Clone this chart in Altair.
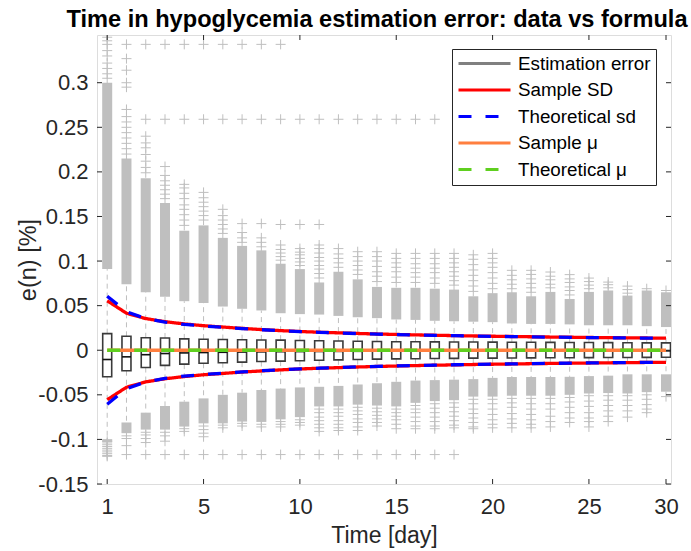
import altair as alt
import pandas as pd

# ---------------- data ----------------
days = list(range(1, 31))

box_q3 = [0.0186, 0.0156, 0.0140, 0.0138, 0.0127, 0.0124, 0.0120, 0.0118, 0.0115, 0.0113,
          0.0110, 0.0106, 0.0103, 0.0100, 0.0098, 0.0096, 0.0095, 0.0094, 0.0093, 0.0092,
          0.0091, 0.0090, 0.0089, 0.0088, 0.0087, 0.0086, 0.0085, 0.0084, 0.0083, 0.0082]
box_q1 = [-0.0298, -0.0230, -0.0194, -0.0170, -0.0156, -0.0146, -0.0140, -0.0133, -0.0127, -0.0122,
          -0.0118, -0.0112, -0.0108, -0.0104, -0.0100, -0.0097, -0.0095, -0.0093, -0.0091, -0.0089,
          -0.0088, -0.0087, -0.0086, -0.0085, -0.0084, -0.0083, -0.0082, -0.0081, -0.0080, -0.0079]
box_med = [-0.0104, -0.0074, -0.0050, -0.0037, -0.0030, -0.0026, -0.0023, -0.0020, -0.0018, -0.0016,
           -0.0015, -0.0014, -0.0013, -0.0012, -0.0011, -0.0011, -0.0010, -0.0010, -0.0009, -0.0009,
           -0.0009, -0.0008, -0.0008, -0.0008, -0.0008, -0.0007, -0.0007, -0.0007, -0.0007, -0.0007]

# dense band of upper outliers (bottom / top)
upper_lo = [0.091, 0.074, 0.065, 0.060, 0.055, 0.053, 0.049, 0.0465, 0.0446, 0.0415,
            0.0405, 0.0400, 0.0385, 0.0370, 0.0360, 0.0345, 0.0340, 0.0330, 0.0325, 0.0320,
            0.0315, 0.0300, 0.0295, 0.0295, 0.0290, 0.0280, 0.0280, 0.0280, 0.0270, 0.0260]
upper_hi = [0.300, 0.215, 0.193, 0.165, 0.134, 0.140, 0.126, 0.117, 0.112, 0.097,
            0.091, 0.076, 0.088, 0.0795, 0.071, 0.070, 0.070, 0.069, 0.068, 0.0605,
            0.064, 0.065, 0.0605, 0.0654, 0.0575, 0.0654, 0.067, 0.0613, 0.067, 0.065]
# dense band of lower outliers (top / bottom)
lower_hi = [-0.0997, -0.081, -0.070, -0.0625, -0.0577, -0.054, -0.050, -0.0476, -0.0446, -0.043,
            -0.0417, -0.041, -0.040, -0.0384, -0.037, -0.0354, -0.034, -0.0335, -0.033, -0.0324,
            -0.031, -0.030, -0.030, -0.030, -0.0298, -0.029, -0.0285, -0.027, -0.027, -0.027]
lower_lo = [-0.103, -0.093, -0.089, -0.089, -0.0856, -0.082, -0.082, -0.080, -0.0804, -0.0775,
            -0.075, -0.063, -0.063, -0.061, -0.062, -0.063, -0.059, -0.057, -0.056, -0.052,
            -0.052, -0.051, -0.051, -0.051, -0.050, -0.0485, -0.048, -0.0485, -0.047, -0.0465]

# individual outliers ('+') above the upper band
upper_extra = {
    1: [0.305, 0.310, 0.316, 0.322, 0.330, 0.336, 0.343, 0.347, 0.351],
    2: [0.220, 0.226, 0.232, 0.238, 0.244, 0.250, 0.256, 0.262, 0.270, 0.295, 0.300, 0.314, 0.327, 0.343],
    3: [0.199, 0.205, 0.212, 0.2195, 0.227, 0.2325, 0.240, 0.259, 0.343],
    4: [0.170, 0.175, 0.180, 0.185, 0.190, 0.196, 0.206, 0.259, 0.343],
    5: [0.140, 0.146, 0.152, 0.158, 0.163, 0.170, 0.176, 0.182, 0.186, 0.259, 0.343],
    6: [0.146, 0.151, 0.156, 0.161, 0.166, 0.171, 0.177, 0.259, 0.343],
    7: [0.131, 0.136, 0.141, 0.146, 0.151, 0.158, 0.259, 0.343],
    8: [0.121, 0.126, 0.132, 0.142, 0.259, 0.343],
    9: [0.116, 0.121, 0.126, 0.142, 0.259, 0.343],
    10: [0.101, 0.105, 0.109, 0.113, 0.118, 0.141, 0.259, 0.343],
    11: [0.095, 0.099, 0.103, 0.107, 0.110, 0.114, 0.141, 0.259],
    12: [0.081, 0.086, 0.091, 0.095, 0.100, 0.104, 0.109, 0.114, 0.118, 0.141, 0.259],
    13: [0.093, 0.098, 0.103, 0.108, 0.114, 0.259],
    14: [0.085, 0.090, 0.095, 0.100, 0.105, 0.1105, 0.259],
    15: [0.077, 0.083, 0.088, 0.094, 0.100, 0.105, 0.1105, 0.259],
    16: [0.076, 0.082, 0.088, 0.093, 0.098, 0.103, 0.1086, 0.259],
    17: [0.076, 0.082, 0.087, 0.092, 0.097, 0.103, 0.1086, 0.259],
    18: [0.075, 0.081, 0.087, 0.092, 0.097, 0.103, 0.1086, 0.259],
    19: [0.073, 0.078, 0.083, 0.088, 0.093, 0.098, 0.103, 0.1086],
    20: [0.066, 0.072, 0.078, 0.084, 0.090, 0.096, 0.102, 0.107],
    21: [0.069, 0.075, 0.081, 0.087, 0.093, 0.098, 0.103, 0.1086],
    22: [0.069, 0.074, 0.079, 0.084, 0.0896],
    23: [0.065, 0.070, 0.075, 0.080, 0.085, 0.0896],
    24: [0.070, 0.074, 0.079, 0.083, 0.0877],
    25: [0.062, 0.067, 0.071, 0.076, 0.080, 0.0848],
    26: [0.069, 0.073, 0.077, 0.0809],
    27: [0.070, 0.0735, 0.0764],
    28: [0.064, 0.068, 0.0719],
    29: [0.069],
    30: [0.067],
}
# individual outliers ('+') below the lower band
lower_extra = {
    1: [-0.102, -0.104, -0.106, -0.108, -0.110, -0.112, -0.114, -0.116, -0.118, -0.119],
    2: [-0.096, -0.099, -0.107, -0.117],
    3: [-0.092, -0.095, -0.099, -0.1035, -0.117],
    4: [-0.092, -0.096, -0.102, -0.117],
    5: [-0.088, -0.091, -0.117],
    6: [-0.085, -0.089, -0.093, -0.097, -0.117],
    7: [-0.084, -0.087, -0.117],
    8: [-0.082, -0.085, -0.117],
    9: [-0.083, -0.086, -0.117],
    10: [-0.080, -0.083, -0.086, -0.117],
    11: [-0.078, -0.081, -0.084, -0.117],
    12: [-0.066, -0.070, -0.075, -0.079, -0.083, -0.087, -0.091, -0.117],
    13: [-0.066, -0.070, -0.074, -0.079, -0.083, -0.087, -0.090, -0.117],
    14: [-0.064, -0.068, -0.072, -0.077, -0.081, -0.086, -0.090, -0.117],
    15: [-0.065, -0.069, -0.073, -0.077, -0.081, -0.085, -0.117],
    16: [-0.066, -0.070, -0.074, -0.078, -0.083, -0.088, -0.117],
    17: [-0.062, -0.066, -0.070, -0.075, -0.080, -0.085, -0.088, -0.117],
    18: [-0.060, -0.065, -0.070, -0.075, -0.080, -0.085, -0.088, -0.117],
    19: [-0.059, -0.064, -0.069, -0.074, -0.079, -0.084, -0.087, -0.117],
    20: [-0.055, -0.060, -0.066, -0.071, -0.076, -0.081, -0.086, -0.088],
    21: [-0.055, -0.060, -0.066, -0.072, -0.078, -0.083, -0.087],
    22: [-0.054, -0.059, -0.064, -0.071, -0.077, -0.082, -0.087],
    23: [-0.054, -0.060, -0.066, -0.072, -0.078, -0.083, -0.087],
    24: [-0.054, -0.060, -0.066, -0.074, -0.080, -0.086],
    25: [-0.053, -0.058, -0.064, -0.070, -0.076, -0.081],
    26: [-0.051, -0.057, -0.063, -0.070, -0.076, -0.080, -0.086],
    27: [-0.051, -0.056, -0.062, -0.068, -0.074, -0.080],
    28: [-0.051, -0.056, -0.062, -0.068, -0.075],
    29: [-0.050, -0.055, -0.061, -0.066, -0.070],
    30: [-0.052],
}

sd_sample = [0.0555, 0.0415, 0.0355, 0.0320, 0.0295, 0.0275, 0.0260, 0.0245, 0.0232, 0.0220,
             0.0210, 0.0202, 0.0195, 0.0188, 0.0182, 0.0177, 0.0172, 0.0168, 0.0164, 0.0160,
             0.0157, 0.0154, 0.0151, 0.0148, 0.0146, 0.0143, 0.0141, 0.0139, 0.0137, 0.0135]
sd_theory = [0.0605, 0.0432, 0.0355, 0.0315, 0.0290, 0.0272, 0.0257, 0.0243, 0.0230, 0.0219,
             0.0209, 0.0201, 0.0194, 0.0187, 0.0181, 0.0176, 0.0171, 0.0167, 0.0163, 0.0159,
             0.0156, 0.0153, 0.0150, 0.0147, 0.0145, 0.0142, 0.0140, 0.0138, 0.0136, 0.0134]
mu_sample = [0.0, 0.0, 0.0, 0.0, 0.0, 0.0, 0.0, 0.0, 0.0, 0.0,
             0.0, 0.0, 0.0, 0.0, 0.0, 0.0, 0.0, 0.0, 0.0, 0.0,
             0.0, 0.0, 0.0, 0.0, 0.0, 0.0, 0.0, 0.0, 0.0, 0.0]
mu_theory = [0.0, 0.0, 0.0, 0.0, 0.0, 0.0, 0.0, 0.0, 0.0, 0.0,
             0.0, 0.0, 0.0, 0.0, 0.0, 0.0, 0.0, 0.0, 0.0, 0.0,
             0.0, 0.0, 0.0, 0.0, 0.0, 0.0, 0.0, 0.0, 0.0, 0.0]

x_tick_pos = [1, 6, 11, 16, 21, 26, 30]
x_tick_lab = ["1", "5", "10", "15", "20", "25", "30"]
y_ticks = [-0.15, -0.1, -0.05, 0, 0.05, 0.1, 0.15, 0.2, 0.25, 0.3]

series_names = ["Estimation error", "Sample SD", "Theoretical sd", "Sample μ", "Theoretical μ"]
series_colors = ["#808080", "#ff0000", "#0000ff", "#ff7f3f", "#5fcf1f"]
series_dash = [[1, 0], [1, 0], [13, 14], [1, 0], [13, 14]]

# ---------------- styling ----------------
FONT = "Liberation Sans"
AX = "#262626"
GRAY = "#bfbfbf"
W, H = 574, 449

box_df = pd.DataFrame(dict(day=days, q1=box_q1, q3=box_q3, med=box_med,
                           up_lo=upper_lo, up_hi=upper_hi, lo_hi=lower_hi, lo_lo=lower_lo))
plus_rows = []
for d, vals in upper_extra.items():
    plus_rows += [dict(day=d, v=v) for v in vals]
for d, vals in lower_extra.items():
    plus_rows += [dict(day=d, v=v) for v in vals]
plus_df = pd.DataFrame(plus_rows)

line_rows = []
for name, vals in [("Sample SD", sd_sample), ("Theoretical sd", sd_theory)]:
    for d, v in zip(days, vals):
        line_rows.append(dict(day=d, v=v, series=name, branch="upper"))
        line_rows.append(dict(day=d, v=-v, series=name, branch="lower"))
for name, vals in [("Sample μ", mu_sample), ("Theoretical μ", mu_theory)]:
    for d, v in zip(days, vals):
        line_rows.append(dict(day=d, v=v, series=name, branch="mid"))
line_df = pd.DataFrame(line_rows)

xs = alt.Scale(domain=[0.73, 30], nice=False, zero=False)
ys = alt.Scale(domain=[-0.15, 0.3535], nice=False, zero=False)

x_expr = ""
for p, l in zip(x_tick_pos, x_tick_lab):
    x_expr += f"datum.value == {p} ? '{l}' : "
x_expr += "''"

x_axis = alt.Axis(values=x_tick_pos, labelExpr=x_expr, title="Time [day]", ticks=False, tickSize=0,
                  domain=False, grid=False, labelFont=FONT, labelFontSize=22, labelColor=AX,
                  labelPadding=12, labelFlush=False, labelOverlap=False,
                  titleFont=FONT, titleFontSize=23, titleFontWeight="normal", titleColor=AX,
                  titlePadding=7)
y_axis = alt.Axis(values=y_ticks, labelExpr="'' + datum.value", title="e(n) [%]", ticks=False,
                  tickSize=0, domain=False, grid=False, labelFont=FONT, labelFontSize=22,
                  labelColor=AX, labelPadding=9, labelFlush=False, labelOverlap=False,
                  titleFont=FONT, titleFontSize=23.5, titleFontWeight="normal", titleColor=AX,
                  titlePadding=-3)


def X(field):
    return alt.X(field, type="quantitative", scale=xs, axis=x_axis)


def Y(field):
    return alt.Y(field, type="quantitative", scale=ys, axis=y_axis)


# upper / lower dense outlier bands
band_up = alt.Chart(box_df).mark_rule(color=GRAY, strokeWidth=10, strokeCap="butt", clip=True).encode(
    x=X("day"), y=Y("up_lo"), y2="up_hi:Q",
)
band_lo = alt.Chart(box_df).mark_rule(color=GRAY, strokeWidth=10, strokeCap="butt", clip=True).encode(
    x=X("day"), y=Y("lo_hi"), y2="lo_lo:Q",
)
plus = alt.Chart(plus_df).mark_point(shape="M-1,0L1,0M0,-1L0,1", size=100, filled=False,
                                     stroke=GRAY, strokeWidth=1, opacity=1, clip=True).encode(
    x=X("day"), y=Y("v"),
)
whisk_up = alt.Chart(box_df).mark_rule(color=GRAY, strokeWidth=1, strokeDash=[5, 4], clip=True).encode(
    x=X("day"), y=Y("q3"), y2="up_lo:Q",
)
whisk_lo = alt.Chart(box_df).mark_rule(color=GRAY, strokeWidth=1, strokeDash=[5, 4], clip=True).encode(
    x=X("day"), y=Y("q1"), y2="lo_hi:Q",
)
boxes = alt.Chart(box_df).mark_bar(size=9, fillOpacity=0, stroke="#3a3a3a", strokeWidth=1.6,
                                   clip=True).encode(
    x=X("day"), y=Y("q1"), y2="q3:Q",
)
meds = alt.Chart(box_df).mark_tick(orient="horizontal", size=9, thickness=1.6, color="#111111",
                                   opacity=1, clip=True).encode(
    x=X("day"), y=Y("med"),
)

legend = alt.Legend(title=None, orient="none", legendX=355, legendY=14, symbolType="stroke",
                    symbolSize=2704, symbolStrokeWidth=3, clipHeight=19, rowPadding=6.5,
                    labelOffset=6, labelFont=FONT, labelFontSize=18.8, labelColor="#000000",
                    labelLimit=300, padding=5, strokeColor=AX, fillColor="white")

color_scale = alt.Scale(domain=series_names, range=series_colors)
dash_scale = alt.Scale(domain=series_names, range=series_dash)


def line_layer(name):
    return alt.Chart(line_df).transform_filter(alt.datum.series == name).mark_line(
        strokeWidth=3.3, clip=True).encode(
        x=X("day"), y=Y("v"),
        color=alt.Color("series:N", scale=color_scale, legend=legend),
        strokeDash=alt.StrokeDash("series:N", scale=dash_scale, legend=legend),
        detail="branch:N",
    )


lines = [line_layer(n) for n in series_names[1:]]

# inward tick marks on all four sides
yt_df = pd.DataFrame(dict(t=y_ticks))
xt_df = pd.DataFrame(dict(t=x_tick_pos))
TL = 5
tick_l = alt.Chart(yt_df).mark_rule(color=AX, strokeWidth=1).encode(
    y=Y("t"), x=alt.value(0), x2=alt.value(TL))
tick_r = alt.Chart(yt_df).mark_rule(color=AX, strokeWidth=1).encode(
    y=Y("t"), x=alt.value(W - TL), x2=alt.value(W))
tick_b = alt.Chart(xt_df).mark_rule(color=AX, strokeWidth=1).encode(
    x=X("t"), y=alt.value(H - TL), y2=alt.value(H))
tick_t = alt.Chart(xt_df).mark_rule(color=AX, strokeWidth=1).encode(
    x=X("t"), y=alt.value(0), y2=alt.value(TL))

chart = alt.layer(
    band_up, band_lo, plus, whisk_up, whisk_lo, boxes, meds, *lines,
    tick_l, tick_r, tick_b, tick_t,
).properties(
    width=W, height=H,
    title=alt.Title("Time in hypoglycemia estimation error: data vs formula", font=FONT,
                    fontSize=23.6, fontWeight="bold", color="#000000", offset=3, anchor="middle",
                    dx=-7),
    autosize=alt.AutoSizeParams(type="none"),
    padding={"left": 97, "top": 35, "right": 20, "bottom": 67},
).configure_view(
    stroke=AX, strokeWidth=1,
).configure(background="white")

chart.save("out.html", embed_options={"renderer": "svg", "actions": False})
